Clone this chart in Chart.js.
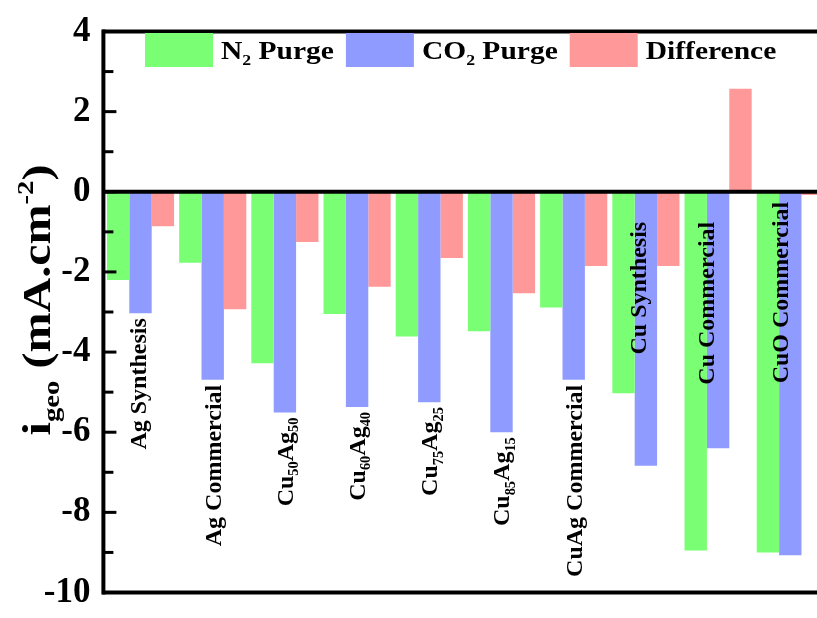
<!DOCTYPE html>
<html lang="en">
<head>
  <meta charset="UTF-8">
  <title>i_geo N2 / CO2 purge</title>
  <script src="https://cdn.jsdelivr.net/npm/chart.js"></script>
  <style>
    html, body {
      margin: 0;
      padding: 0;
      background: #fff;
      overflow: hidden;
    }
    /* a bit wider than the window: the right edge of the plot is cut off like in the source */
    #wrap {
      width: 840px;
      height: 624px;
      position: relative;
    }
  </style>
</head>
<body>
  <div id="wrap"><canvas id="chart"></canvas></div>

  <script>
    // data (mA.cm-2)
    const categories = ['Ag Synthesis', 'Ag Commercial', 'Cu_{50}Ag_{50}', 'Cu_{60}Ag_{40}', 'Cu_{75}Ag_{25}',
                        'Cu_{85}Ag_{15}', 'CuAg Commercial', 'Cu Synthesis', 'Cu Commercial', 'CuO Commercial'];
    const n2Purge    = [-2.20, -1.77, -4.28, -3.05, -3.61, -3.48, -2.89, -5.03, -8.95, -9.00];
    const co2Purge   = [-3.03, -4.69, -5.51, -5.37, -5.25, -6.00, -4.69, -6.84, -6.40, -9.07];
    const difference = [-0.86, -2.93, -1.25, -2.37, -1.65, -2.53, -1.85, -1.85,  2.57, -0.08];
    const seriesNames = ['N_{2} Purge', 'CO_{2} Purge', 'Difference'];
    const seriesColors = ['#7AFF74', '#8F9BFF', '#FF9999'];
    const yTitle = 'i_{geo} (mA.cm^{-2})';

    const FONT = '"Liberation Serif", "Times New Roman", serif';

    // split "Cu_{50}Ag_{50}" into normal / sub / sup pieces
    function parseRich(str) {
      const parts = [];
      const re = /([_^])\{([^}]*)\}/g;
      let last = 0, m;
      while ((m = re.exec(str))) {
        if (m.index > last) parts.push({ t: str.slice(last, m.index), mode: 0 });
        parts.push({ t: m[2], mode: m[1] === '_' ? 1 : -1 });
        last = re.lastIndex;
      }
      if (last < str.length) parts.push({ t: str.slice(last), mode: 0 });
      return parts;
    }

    // draws on the alphabetic baseline, align left/center/right
    function drawRich(ctx, str, x, y, size, align) {
      const parts = parseRich(str);
      let w = 0;
      parts.forEach(p => {
        ctx.font = `bold ${p.mode ? size * 0.6 : size}px ${FONT}`;
        p.w = ctx.measureText(p.t).width;
        w += p.w;
      });
      let cx = align === 'right' ? x - w : align === 'center' ? x - w / 2 : x;
      ctx.textAlign = 'left';
      ctx.textBaseline = 'alphabetic';
      parts.forEach(p => {
        ctx.font = `bold ${p.mode ? size * 0.6 : size}px ${FONT}`;
        const dy = p.mode === 1 ? size * 0.22 : p.mode === -1 ? -size * 0.42 : 0;
        ctx.fillText(p.t, cx, y + dy);
        cx += p.w;
      });
      return w;
    }

    // frame, inward ticks, zero line, rotated category labels, legend, y title
    const decorPlugin = {
      id: 'decor',
      afterDatasetsDraw(chart, args, opts) {
        const { ctx, chartArea: a, scales: { y } } = chart;
        ctx.save();
        ctx.strokeStyle = '#000';
        ctx.fillStyle = '#000';

        // ticks pointing into the plot
        ctx.lineWidth = 3;
        for (let v = y.min; v <= y.max; v += 1) {
          const py = y.getPixelForValue(v);
          const len = v % 2 === 0 ? 12 : 9;
          ctx.beginPath();
          ctx.moveTo(a.left, py);
          ctx.lineTo(a.left + len, py);
          ctx.stroke();
        }

        // top, zero and bottom lines
        ctx.lineWidth = 4;
        [a.top, y.getPixelForValue(0), a.bottom].forEach(py => {
          ctx.beginPath();
          ctx.moveTo(a.left - 2, py);
          ctx.lineTo(a.right + 2, py);
          ctx.stroke();
        });
        ctx.beginPath();
        ctx.moveTo(a.left - 1, a.top - 2);
        ctx.lineTo(a.left - 1, a.bottom + 2);
        ctx.moveTo(a.right + 1, a.top - 2);
        ctx.lineTo(a.right + 1, a.bottom + 2);
        ctx.stroke();

        // category labels, rotated, hanging under the CO2 bar (or inside for the last ones)
        const mid = chart.getDatasetMeta(1).data;
        const y0 = y.getPixelForValue(0);
        categories.forEach((name, i) => {
          const bar = mid[i];
          const inside = opts.inside[i];
          const top = inside != null ? y0 + inside : bar.y + opts.gap;
          const dx = opts.shift[i] || 0;
          ctx.save();
          ctx.translate(bar.x + dx + opts.labelSize * 0.33, top);
          ctx.rotate(-Math.PI / 2);
          drawRich(ctx, name, 0, 0, opts.labelSize, 'right');
          ctx.restore();
        });

        // legend inside the frame
        const lg = opts.legend;
        let lx = lg.x;
        seriesNames.forEach((name, i) => {
          ctx.fillStyle = seriesColors[i];
          ctx.fillRect(lx, lg.y, lg.boxW, lg.boxH);
          ctx.fillStyle = '#000';
          const tx = lx + lg.boxW + 8;
          ctx.save();
          ctx.translate(tx, lg.y + 26);
          ctx.scale(lg.stretch, 1);
          const w = drawRich(ctx, name, 0, 0, lg.size, 'left');
          ctx.restore();
          lx = tx + w * lg.stretch + 12;
        });

        // y axis title
        const t = opts.title;
        ctx.save();
        ctx.translate(t.x, (a.top + a.bottom) / 2 + t.dy);
        ctx.rotate(-Math.PI / 2);
        ctx.scale(t.stretch, 1);
        drawRich(ctx, yTitle, 0, 0, t.size, 'center');
        ctx.restore();

        ctx.restore();
      }
    };

    const ctx = document.getElementById('chart').getContext('2d');
    new Chart(ctx, {
      type: 'bar',
      data: {
        labels: categories,
        datasets: [
          { label: seriesNames[0], data: n2Purge, backgroundColor: seriesColors[0] },
          { label: seriesNames[1], data: co2Purge, backgroundColor: seriesColors[1] },
          { label: seriesNames[2], data: difference, backgroundColor: seriesColors[2] }
        ]
      },
      options: {
        responsive: true,
        maintainAspectRatio: false,
        animation: false,
        events: [],
        datasets: {
          bar: { categoryPercentage: 0.93, barPercentage: 1.0, borderWidth: 0 }
        },
        layout: { padding: { top: 27, bottom: 17, left: 0, right: 13.6 } },
        scales: {
          x: { display: false },
          y: {
            min: -10,
            max: 4,
            ticks: {
              stepSize: 2,
              color: '#000',
              padding: 14,
              font: { family: FONT, size: 35, weight: 'bold', lineHeight: 1 }
            },
            grid: { display: false, drawTicks: false },
            border: { display: false },
            afterFit(scale) { scale.width = 104.4; }
          }
        },
        plugins: {
          legend: { display: false },
          tooltip: { enabled: false },
          decor: {
            gap: 5,
            labelSize: 24,
            inside: [null, null, null, null, null, null, null, 30, 30, 10],
            shift: [-2, 0, 0, 0, 0, 0, 0, -8, -12, -10],
            legend: { x: 145, y: 33, boxW: 68, boxH: 34, size: 25, stretch: 1.18 },
            title: { x: 50, dy: -12, size: 40, stretch: 1.2 }
          }
        }
      },
      plugins: [decorPlugin]
    });
  </script>
</body>
</html>
